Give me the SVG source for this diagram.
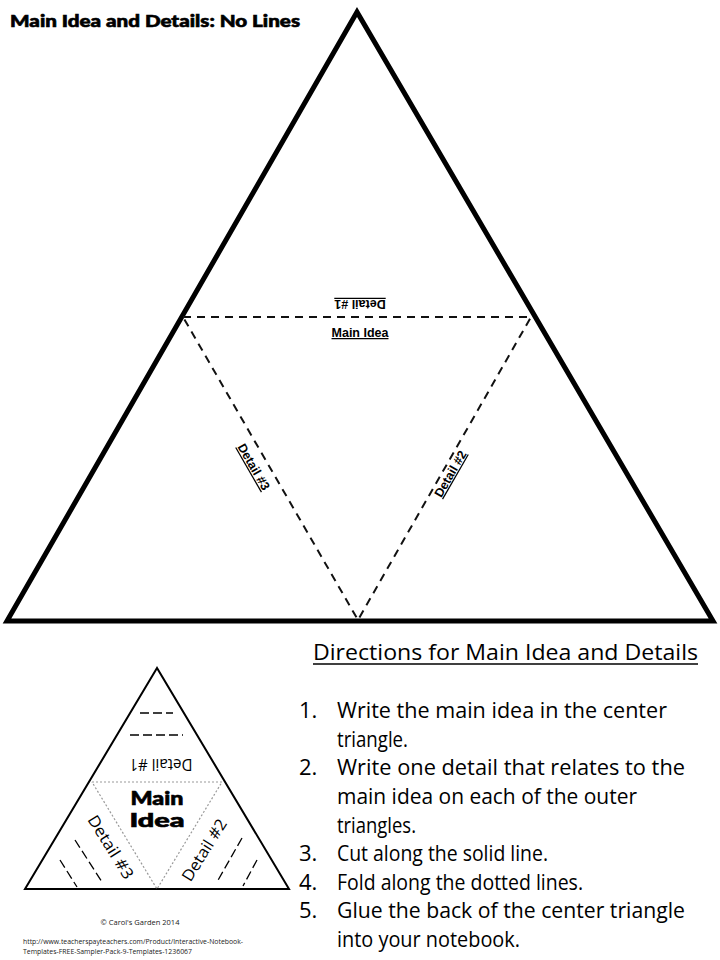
<svg xmlns="http://www.w3.org/2000/svg" width="720" height="960" viewBox="0 0 720 960">
<style>
.outer{fill:none;stroke:#000;stroke-width:5;stroke-linejoin:miter;stroke-miterlimit:10}
.fold{stroke:#111;stroke-width:2;stroke-dasharray:8 6;fill:none}
.lbl{font-family:"Liberation Sans",Arial,sans-serif;font-weight:bold;font-size:12.5px;fill:#000;text-decoration:underline}
.hand{font-family:"Open Sans","Liberation Sans",sans-serif;font-size:22px;fill:#000}
.heavy{font-family:Lato,"Liberation Sans",sans-serif;font-weight:900;fill:#000;stroke:#000;stroke-width:0.6}
.small-outer{fill:none;stroke:#000;stroke-width:2}
.small-fold{stroke:#999;stroke-width:1.2;stroke-dasharray:2 2;fill:none}
.smallhand{font-family:"Open Sans","Liberation Sans",sans-serif;font-size:16px;fill:#000}
.blank{stroke:#000;stroke-width:1.3;stroke-dasharray:9 4}
.foot{font-family:"Open Sans","Liberation Sans",sans-serif;font-size:7.5px;fill:#222}
</style>
<rect width="720" height="960" fill="#fff"/>
<g id="title">
<text class="heavy" x="10" y="27" font-size="16" textLength="290" lengthAdjust="spacingAndGlyphs">Main Idea and Details: No Lines</text>
</g>
<g id="big-triangle">
<polygon class="outer" points="357,12 7,621 713,621"/>
</g>
<g id="connectors">
<polyline class="fold" points="183,317 531,317 358,620 183,317"/>
</g>
<g id="detail1">
<text class="lbl" transform="translate(360,300) rotate(180)" text-anchor="middle">Detail #1</text>
</g>
<g id="main-idea">
<text class="lbl" x="360" y="337" text-anchor="middle" font-size="13">Main Idea</text>
</g>
<g id="detail3">
<text class="lbl" transform="translate(250,469) rotate(60)" text-anchor="middle">Detail #3</text>
</g>
<g id="detail2">
<text class="lbl" transform="translate(454,476) rotate(-60)" text-anchor="middle">Detail #2</text>
</g>
<g id="directions">
<text class="hand" x="313" y="660" font-size="24" textLength="385" lengthAdjust="spacingAndGlyphs">Directions for Main Idea and Details</text>
<line x1="313" y1="664" x2="698" y2="664" stroke="#000" stroke-width="1.5"/>
<text class="hand" x="299" y="718">1.</text>
<text class="hand" x="337" y="718" textLength="330" lengthAdjust="spacingAndGlyphs">Write the main idea in the center</text>
<text class="hand" x="337" y="747" textLength="71" lengthAdjust="spacingAndGlyphs">triangle.</text>
<text class="hand" x="299" y="775">2.</text>
<text class="hand" x="337" y="775" textLength="348" lengthAdjust="spacingAndGlyphs">Write one detail that relates to the</text>
<text class="hand" x="337" y="804" textLength="300" lengthAdjust="spacingAndGlyphs">main idea on each of the outer</text>
<text class="hand" x="337" y="833" textLength="79" lengthAdjust="spacingAndGlyphs">triangles.</text>
<text class="hand" x="299" y="861">3.</text>
<text class="hand" x="337" y="861" textLength="211" lengthAdjust="spacingAndGlyphs">Cut along the solid line.</text>
<text class="hand" x="299" y="890">4.</text>
<text class="hand" x="337" y="890" textLength="246" lengthAdjust="spacingAndGlyphs">Fold along the dotted lines.</text>
<text class="hand" x="299" y="918">5.</text>
<text class="hand" x="337" y="918" textLength="348" lengthAdjust="spacingAndGlyphs">Glue the back of the center triangle</text>
<text class="hand" x="337" y="947" textLength="183" lengthAdjust="spacingAndGlyphs">into your notebook.</text>
</g>
<g id="example">
<polygon class="small-outer" points="157,668 25,889 289,889"/>
<polyline class="small-fold" points="92,782 222,782 157,889 92,782"/>
<line class="blank" x1="140" y1="713" x2="173" y2="713"/>
<line class="blank" x1="130" y1="735" x2="183" y2="735"/>
<text class="smallhand" transform="translate(161,759) rotate(180)" text-anchor="middle" textLength="63" lengthAdjust="spacingAndGlyphs">Detail #1</text>
<text class="heavy" x="157" y="805" text-anchor="middle" font-size="18" textLength="53" lengthAdjust="spacingAndGlyphs">Main</text>
<text class="heavy" x="157" y="827" text-anchor="middle" font-size="18" textLength="55" lengthAdjust="spacingAndGlyphs">Idea</text>
<text class="smallhand" transform="translate(106,850) rotate(58)" text-anchor="middle" textLength="72" lengthAdjust="spacingAndGlyphs">Detail #3</text>
<text class="smallhand" transform="translate(209,853) rotate(-58)" text-anchor="middle" textLength="70" lengthAdjust="spacingAndGlyphs">Detail #2</text>
<line class="blank" x1="75" y1="840" x2="102" y2="882"/>
<line class="blank" x1="60" y1="860" x2="77" y2="887"/>
<line class="blank" x1="242" y1="838" x2="217" y2="882"/>
<line class="blank" x1="257" y1="860" x2="243" y2="886"/>
</g>
<g id="footer">
<text class="foot" x="140" y="925" text-anchor="middle">© Carol's Garden 2014</text>
<text class="foot" x="23" y="944" textLength="220" lengthAdjust="spacingAndGlyphs">http://www.teacherspayteachers.com/Product/Interactive-Notebook-</text>
<text class="foot" x="23" y="954" textLength="169" lengthAdjust="spacingAndGlyphs">Templates-FREE-Sampler-Pack-9-Templates-1236067</text>
</g>
</svg>
